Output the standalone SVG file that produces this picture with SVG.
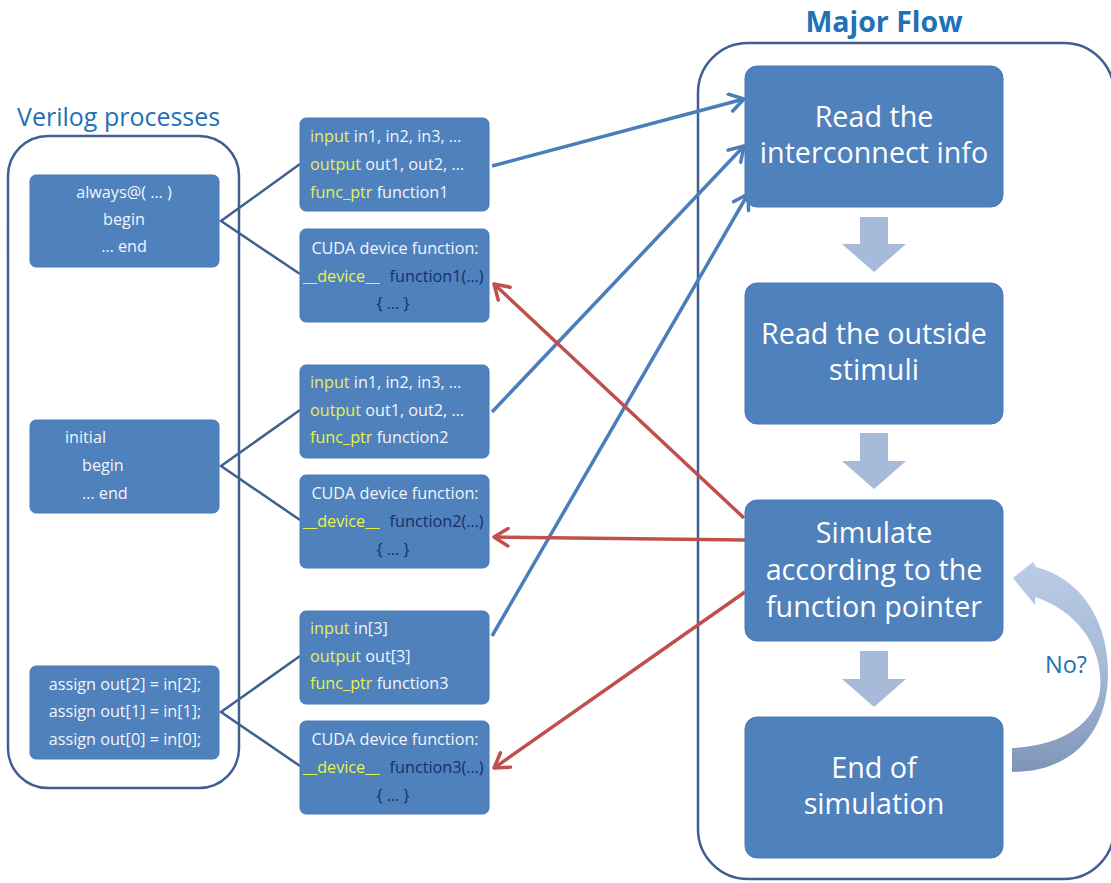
<svg xmlns="http://www.w3.org/2000/svg" width="1111" height="883" viewBox="0 0 1111 883">
  <style>
    .title { font-family: "Open Sans", Lato, sans-serif; fill: #2270B5; }
    .frame { fill: none; stroke: #3F5F8E; stroke-width: 2.5; }
    .box { fill: #4F81BD; stroke: #4A7AB4; stroke-width: 1; }
    .t { font-family: "Open Sans", Lato, sans-serif; font-size: 16.2px; fill: #F2F5FA; }
    .y { fill: #E8F24C; }
    .n { fill: #14306A; }
    .big { font-family: "Open Sans", Lato, sans-serif; font-size: 28.7px; fill: #FFFFFF; text-anchor: middle; }
    .link { stroke: #3F5F8E; stroke-width: 2.5; fill: none; }
    .blue { stroke: #4A7EBB; stroke-width: 3.5; fill: none; marker-end: url(#openBlue); }
    .red { stroke: #C0504D; stroke-width: 3.5; fill: none; marker-end: url(#openRed); }
    .down { fill: #A7BADA; }
  </style>
  <defs>
    <marker id="openBlue" viewBox="0 0 12 12" refX="10" refY="6" markerWidth="6" markerHeight="6" orient="auto" markerUnits="strokeWidth">
      <path d="M2,1 L10,6 L2,11" fill="none" stroke="#4A7EBB" stroke-width="2" stroke-linecap="round" stroke-linejoin="round"/>
    </marker>
    <marker id="openRed" viewBox="0 0 12 12" refX="10" refY="6" markerWidth="6" markerHeight="6" orient="auto" markerUnits="strokeWidth">
      <path d="M2,1 L10,6 L2,11" fill="none" stroke="#C0504D" stroke-width="2" stroke-linecap="round" stroke-linejoin="round"/>
    </marker>
    <linearGradient id="loopGrad" x1="0" y1="0" x2="0" y2="1">
      <stop offset="0" stop-color="#BACCE5"/>
      <stop offset="0.5" stop-color="#A6B9D6"/>
      <stop offset="1" stop-color="#7F95B7"/>
    </linearGradient>
  </defs>

  <rect width="1111" height="883" fill="#FFFFFF"/>

  <!-- containers -->
  <g id="verilog-processes">
    <text class="title" x="17" y="126" font-size="25">Verilog processes</text>
    <rect class="frame" x="8" y="136" width="231" height="652" rx="40"/>
  </g>
  <g id="major-flow">
    <text class="title" x="884" y="32" font-size="28.5" font-weight="bold" text-anchor="middle">Major Flow</text>
    <rect class="frame" x="698" y="43" width="416" height="836" rx="50"/>
  </g>

  <!-- connectors -->
  <g id="connectors">
    <polyline class="link" points="300,164 221,221 300,274"/>
    <polyline class="link" points="300,410 221,466 300,520"/>
    <polyline class="link" points="300,656 221,712 300,766"/>

    <line class="blue" x1="492" y1="166" x2="744" y2="99"/>
    <line class="blue" x1="492" y1="412" x2="744" y2="146"/>
    <line class="blue" x1="492" y1="636" x2="748" y2="194"/>

    <line class="red" x1="744" y1="518" x2="494" y2="284"/>
    <line class="red" x1="745" y1="540" x2="494" y2="537"/>
    <line class="red" x1="745" y1="592" x2="494" y2="768"/>

    <polygon class="down" points="860,217 888,217 888,244 906,244 874,272 842,244 860,244"/>
    <polygon class="down" points="860,433 888,433 888,461 906,461 874,489 842,461 860,461"/>
    <polygon class="down" points="860,651 888,651 888,679 906,679 874,707 842,679 860,679"/>

    <!-- loop-back ribbon arrow -->
    <path d="M1012,748 C1060,746 1095,725 1100,690 C1104,650 1080,612 1035,597 L1035,605 L1013,578 L1033,562 L1036,567 C1085,580 1108,625 1108,673 C1108,730 1075,772 1012,772 Z" fill="url(#loopGrad)"/>
    <text class="title" x="1045" y="673" font-size="23.5">No?</text>
  </g>

  <!-- Verilog process nodes -->
  <g id="always-block">
    <rect class="box" x="30" y="175" width="189" height="92" rx="6"/>
    <text class="t" x="124" y="198" text-anchor="middle">always@( … )</text>
    <text class="t" x="124" y="225" text-anchor="middle">begin</text>
    <text class="t" x="124" y="252" text-anchor="middle">… end</text>
  </g>
  <g id="initial-block">
    <rect class="box" x="30" y="420" width="189" height="93" rx="6"/>
    <text class="t" x="65" y="443">initial</text>
    <text class="t" x="82" y="471">begin</text>
    <text class="t" x="82" y="499">… end</text>
  </g>
  <g id="assign-block">
    <rect class="box" x="30" y="666" width="189" height="93" rx="6"/>
    <text class="t" x="125" y="690" text-anchor="middle">assign out[2] = in[2];</text>
    <text class="t" x="125" y="717" text-anchor="middle">assign out[1] = in[1];</text>
    <text class="t" x="125" y="745" text-anchor="middle">assign out[0] = in[0];</text>
  </g>

  <!-- interconnect records and device functions -->
  <g id="record-1">
    <rect class="box" x="300" y="118" width="189" height="93" rx="6"/>
    <text class="t" x="310" y="142"><tspan class="y">input</tspan> in1, in2, in3, …</text>
    <text class="t" x="310" y="170"><tspan class="y">output</tspan> out1, out2, …</text>
    <text class="t" x="310" y="198"><tspan class="y">func_ptr</tspan> function1</text>
  </g>
  <g id="device-1">
    <rect class="box" x="300" y="229" width="189" height="93" rx="6"/>
    <text class="t" x="395" y="254" text-anchor="middle">CUDA device function:</text>
    <text class="t" x="303" y="282"><tspan class="y">__device__</tspan> <tspan class="n" dx="6">function1(…)</tspan></text>
    <text class="t n" x="393" y="309" text-anchor="middle">{ … }</text>
  </g>
  <g id="record-2">
    <rect class="box" x="300" y="365" width="189" height="93" rx="6"/>
    <text class="t" x="310" y="388"><tspan class="y">input</tspan> in1, in2, in3, …</text>
    <text class="t" x="310" y="416"><tspan class="y">output</tspan> out1, out2, …</text>
    <text class="t" x="310" y="443"><tspan class="y">func_ptr</tspan> function2</text>
  </g>
  <g id="device-2">
    <rect class="box" x="300" y="475" width="189" height="93" rx="6"/>
    <text class="t" x="395" y="499" text-anchor="middle">CUDA device function:</text>
    <text class="t" x="303" y="527"><tspan class="y">__device__</tspan> <tspan class="n" dx="6">function2(…)</tspan></text>
    <text class="t n" x="393" y="555" text-anchor="middle">{ … }</text>
  </g>
  <g id="record-3">
    <rect class="box" x="300" y="611" width="189" height="93" rx="6"/>
    <text class="t" x="310" y="634"><tspan class="y">input</tspan> in[3]</text>
    <text class="t" x="310" y="662"><tspan class="y">output</tspan> out[3]</text>
    <text class="t" x="310" y="689"><tspan class="y">func_ptr</tspan> function3</text>
  </g>
  <g id="device-3">
    <rect class="box" x="300" y="721" width="189" height="93" rx="6"/>
    <text class="t" x="395" y="745" text-anchor="middle">CUDA device function:</text>
    <text class="t" x="303" y="773"><tspan class="y">__device__</tspan> <tspan class="n" dx="6">function3(…)</tspan></text>
    <text class="t n" x="393" y="801" text-anchor="middle">{ … }</text>
  </g>

  <!-- flow steps -->
  <g id="step-read-interconnect">
    <rect class="box" x="745" y="66" width="258" height="141" rx="12"/>
    <text class="big" x="874" y="127">Read the</text>
    <text class="big" x="874" y="163">interconnect info</text>
  </g>
  <g id="step-read-stimuli">
    <rect class="box" x="745" y="283" width="258" height="141" rx="12"/>
    <text class="big" x="874" y="344">Read the outside</text>
    <text class="big" x="874" y="380">stimuli</text>
  </g>
  <g id="step-simulate">
    <rect class="box" x="745" y="500" width="258" height="141" rx="12"/>
    <text class="big" x="874" y="543">Simulate</text>
    <text class="big" x="874" y="580">according to the</text>
    <text class="big" x="874" y="617">function pointer</text>
  </g>
  <g id="step-end">
    <rect class="box" x="745" y="717" width="258" height="141" rx="12"/>
    <text class="big" x="874" y="778">End of</text>
    <text class="big" x="874" y="814">simulation</text>
  </g>
</svg>
